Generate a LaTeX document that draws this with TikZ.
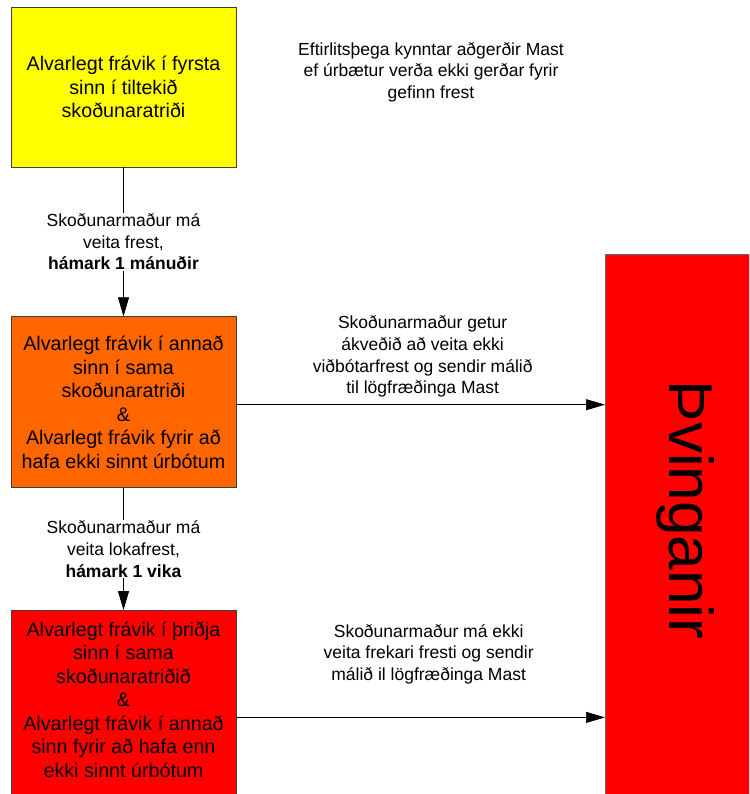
\documentclass[tikz,border=0pt]{standalone}
\usepackage{fontspec}
\setmainfont{Liberation Sans}
\usetikzlibrary{positioning, arrows.meta}

\definecolor{yellowbox}{HTML}{FFFF00}
\definecolor{orangebox}{HTML}{FF6600}
\definecolor{redbox}{HTML}{FF0000}

\begin{document}
\begin{tikzpicture}[
        x=1pt, y=-1pt,
        % Box style: coloured steps on the left
        fault/.style={
                rectangle, draw=black!75,
                minimum width=225pt,
                align=center,
                font=\fontsize{19.7}{23.5}\selectfont
            },
        % Text style: notes along the arrows
        note/.style={
                align=center, fill=white, inner sep=1pt,
                font=\fontsize{17.5}{21.6}\selectfont
            },
        % Arrow style
        >={Triangle[length=19pt, width=11pt]},
        line width=0.7pt
    ]

    \path[use as bounding box] (0,0) rectangle (749,794);
    \clip (0,0) rectangle (749,794);

    %% ---- Steps on the left ----
    \node[fault, fill=yellowbox, minimum height=160pt] (first) at (123.5,87)
    {Alvarlegt frávik í fyrsta\\sinn í tiltekið\\skoðunaratriði};
    \node[fault, fill=orangebox, minimum height=171pt, below=149pt of first] (second)
    {Alvarlegt frávik í annað\\sinn í sama\\skoðunaratriði\\\&\\Alvarlegt frávik fyrir að\\hafa ekki sinnt úrbótum};
    \node[fault, fill=redbox, minimum height=195pt, text depth=17pt, below=122pt of second] (third)
    {Alvarlegt frávik í þriðja\\sinn í sama\\skoðunaratriðið\\\&\\Alvarlegt frávik í annað\\sinn fyrir að hafa enn\\ekki sinnt úrbótum};

    %% ---- Sanctions on the right ----
    \node[rectangle, draw=black!60, fill=redbox, minimum width=160pt,
        minimum height=560pt, anchor=north west] (sanction) at (605,254) {};
    \node[rotate=-90, font=\fontsize{62}{62}\selectfont] (sanctiontext) at (686,510) {Þvinganir};

    %% ---- Note at the top ----
    \node[note] (warning) at (431,72)
    {Eftirlitsþega kynntar aðgerðir Mast\\ef úrbætur verða ekki gerðar fyrir\\gefinn frest};

    %% ---- Deadlines (downwards) ----
    \draw[->] (first) -- node[note] {Skoðunarmaður má\\veita frest,\\\textbf{hámark 1 mánuðir}} (second);
    \draw[->] (second) -- node[note] {Skoðunarmaður má\\veita lokafrest,\\\textbf{hámark 1 vika}} (third);

    %% ---- Referrals (to the right) ----
    \draw[->] ([yshift=-2.5pt] second.east) -- ([yshift=-2.5pt] second.east -| sanction.west)
    node[note, midway, above=6pt, xshift=2pt]
    {Skoðunarmaður getur\\ákveðið að veita ekki\\viðbótarfrest og sendir málið\\til lögfræðinga Mast};
    \draw[->] ([yshift=-9.5pt] third.east) -- ([yshift=-9.5pt] third.east -| sanction.west)
    node[note, midway, above=32pt, xshift=8pt]
    {Skoðunarmaður má ekki\\veita frekari fresti og sendir\\málið il lögfræðinga Mast};

\end{tikzpicture}
\end{document}
